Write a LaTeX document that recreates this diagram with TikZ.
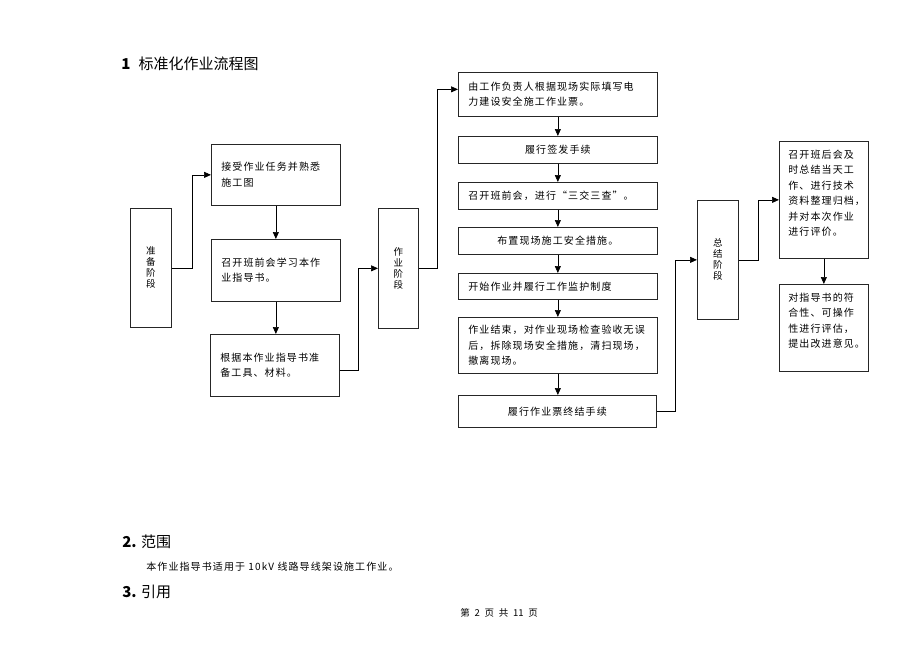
\documentclass[tikz,border=0pt]{standalone}
\usepackage{fontspec}
\setmainfont{Noto Sans CJK SC}
\newfontfamily\boxcjk[LetterSpace=11]{Noto Sans CJK SC}
\usetikzlibrary{arrows.meta}
\newcommand\boxfont{\boxcjk\fontsize{10}{15.5}\selectfont}
\newcommand\stagefont{\fontsize{9.5}{11}\selectfont}
\newcommand\headfont{\fontsize{15}{18}\selectfont}

\begin{document}
\begin{tikzpicture}[x=1pt,y=-1pt,>={Triangle[length=7pt,width=6pt]},line width=0.7pt]
	\tikzset{
		stage/.style={draw=black!85, anchor=north west, minimum width=41pt, minimum height=119pt, inner sep=0pt, align=center, font=\stagefont},
		stepbox/.style={draw=black!85, anchor=north west, align=left, inner xsep=10pt, inner ysep=0pt, font=\boxfont},
		conn/.style={->, black},
		plain/.style={anchor=west, inner sep=0pt}
	}
	% page
	\fill[white] (0,0) rectangle (920,651);
	\useasboundingbox (0,0) rectangle (920,651);
	% heading
	\node[plain, font=\headfont] (title) at (121,64) {\textbf{1}\hspace{0.55em}标准化作业流程图};
	% three stages
	\node[stage] (zb) at (130,208) {准\\备\\阶\\段};
	\node[stage, minimum width=40pt, minimum height=120pt] (zy) at (378,208) {作\\业\\阶\\段};
	\node[stage] (zj) at (697,200) {总\\结\\阶\\段};
	% preparation
	\node[stepbox, text width=109pt, minimum height=61pt] (a1) at (211,144) {接受作业任务并熟悉\\施工图};
	\node[stepbox, text width=109pt, minimum height=62pt] (a2) at (211,239) {召开班前会学习本作\\业指导书。};
	\node[stepbox, text width=109pt, minimum height=62pt] (a3) at (210,334) {根据本作业指导书准\\备工具、材料。};
	% work
	\node[stepbox, text width=179pt, minimum height=44pt] (b1) at (458,72) {由工作负责人根据现场实际填写电\\力建设安全施工作业票。};
	\node[stepbox, text width=179pt, minimum height=27pt, align=center] (b2) at (458,136) {履行签发手续};
	\node[stepbox, text width=179pt, minimum height=27pt] (b3) at (458,182) {召开班前会，进行“三交三查”。};
	\node[stepbox, text width=179pt, minimum height=27pt, align=center] (b4) at (458,227) {布置现场施工安全措施。};
	\node[stepbox, text width=179pt, minimum height=26pt] (b5) at (458,273) {开始作业并履行工作监护制度};
	\node[stepbox, text width=179pt, minimum height=56pt] (b6) at (458,317) {作业结束，对作业现场检查验收无误\\后，拆除现场安全措施，清扫现场，\\撤离现场。};
	\node[stepbox, text width=178pt, minimum height=32pt, align=center] (b7) at (458,395) {履行作业票终结手续};
	% summary
	\node[stepbox, text width=71pt, inner xsep=9pt, inner ysep=5pt, text height=12pt, text depth=95pt] (c1) at (779,141) {召开班后会及\\时总结当天工\\作、进行技术\\资料整理归档，\\并对本次作业\\进行评价。};
	\node[stepbox, text width=71pt, inner xsep=9pt, inner ysep=5pt, text height=12pt, text depth=65pt] (c2) at (779,284) {对指导书的符\\合性、可操作\\性进行评估，\\提出改进意见。};
	% connectors
	\draw[conn] (zb.east) -- ++(21,0) |- (a1.west);
	\draw[conn] (a1.south) -- (a1.south |- a2.north);
	\draw[conn] (a2.south) -- (a2.south |- a3.north);
	\draw[conn] ([yshift=-4.5pt]a3.east) -- ++(19,0) |- (zy.west);
	\draw[conn] (zy.east) -- ++(18.5,0) |- ([yshift=5pt]b1.west);
	\foreach \u/\v in {b1/b2,b2/b3,b3/b4,b4/b5,b5/b6,b6/b7} {
		\draw[conn] (\u.south) -- (\u.south |- \v.north);
	}
	\draw[conn] (b7.east) -- ++(19,0) |- (zj.west);
	\draw[conn] (zj.east) -- ++(20,0) |- (c1.west);
	\draw[conn] (c1.south) -- (c2.north);
	% text below
	\node[plain, font=\headfont] (sec2) at (122,542) {\textbf{2.} 范围};
	\node[plain, font=\boxfont] (scope) at (146,567) {本作业指导书适用于 10kV 线路导线架设施工作业。};
	\node[plain, font=\headfont] (sec3) at (122,592) {\textbf{3.} 引用};
	\node[plain, font=\fontsize{9.5}{11}\selectfont] (foot) at (460,613) {第\enspace 2\enspace 页\enspace 共\enspace 11\enspace 页};
\end{tikzpicture}
\end{document}
